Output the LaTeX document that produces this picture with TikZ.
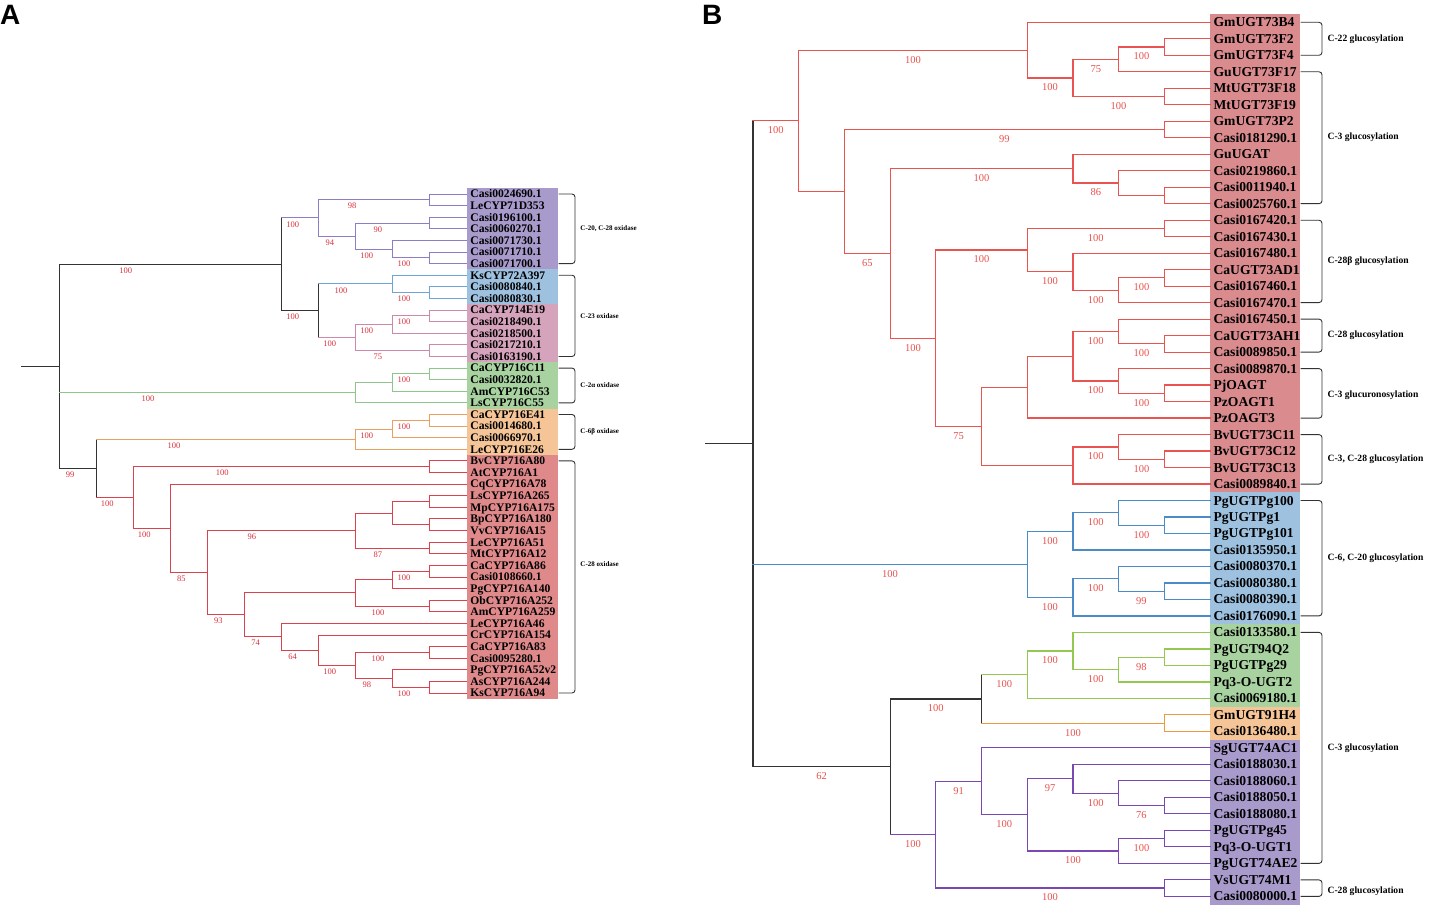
\documentclass[tikz,border=0pt]{standalone}
\usepackage{fontspec}
\setmainfont{Liberation Serif}
\setsansfont{Liberation Sans}
\usetikzlibrary{calc}
\definecolor{cpu}{HTML}{8C7DC4}
\definecolor{cbl}{HTML}{6FA5D6}
\definecolor{cpk}{HTML}{C98AAC}
\definecolor{cgr}{HTML}{8FC58A}
\definecolor{cor}{HTML}{E9A060}
\definecolor{crd}{HTML}{D9434E}
\definecolor{cbk}{HTML}{333333}
\definecolor{boxPu}{HTML}{A89BCC}
\definecolor{boxBl}{HTML}{9DC1DF}
\definecolor{boxPk}{HTML}{D6A3BC}
\definecolor{boxGr}{HTML}{A8D3A0}
\definecolor{boxOr}{HTML}{F5C598}
\definecolor{boxRd}{HTML}{DF898B}
\definecolor{labA}{HTML}{D8303C}
\definecolor{rR}{HTML}{EA5450}
\definecolor{bB}{HTML}{4B8CC8}
\definecolor{gB}{HTML}{94C851}
\definecolor{oB}{HTML}{E89B3F}
\definecolor{pB}{HTML}{7A48B3}
\definecolor{kB}{HTML}{333333}
\definecolor{boxRdB}{HTML}{D98B8E}
\definecolor{labB}{HTML}{E8504C}
\newcommand\tclade[5]{%
  \coordinate (tmp) at ($(#3)!0.5!(#4)$);
  \coordinate (#1) at (tmp -| #2);
  \draw[#5] (#1 |- #3) -- (#1 |- #4);}
\newcommand\tedge[4]{\draw[#3] (#1 |- #2) -- node[lab]{#4} (#2);}
\newcommand\tcherry[5]{\tclade{#1}{#2}{#3}{#4}{#5}\tedge{#1}{#3}{#5}{}\tedge{#1}{#4}{#5}{}}
\begin{document}
\begin{tikzpicture}[x=1pt,y=-1pt,line cap=rect]
\useasboundingbox (0,0) rectangle (1434,912);
\tikzset{
  brk/.style={draw=cbk,line width=0.9pt,rounded corners=3pt},
}
\node[font=\fontsize{28}{28}\selectfont\bfseries\sffamily,anchor=north west,inner sep=0pt] (pA) at (0,5) {A};
\node[font=\fontsize{28}{28}\selectfont\bfseries\sffamily,anchor=north west,inner sep=0pt] (pB) at (702,5) {B};
% ================= PANEL A =================
\begin{scope}[line width=0.9pt,
  lab/.style={pos=0.3,anchor=north,inner sep=0pt,yshift=-3pt,font=\fontsize{8.5}{9}\selectfont,text=labA},
  leafA/.style={anchor=west,inner xsep=3pt,inner ysep=0pt,text height=7.7pt,text depth=0pt,font=\fontsize{11.6}{12}\selectfont\bfseries},
  blA/.style={anchor=west,inner sep=0pt,font=\fontsize{7}{8}\selectfont\bfseries}]
\fill[boxPu] (467,188) rectangle (558,269.4);
\fill[boxBl] (467,269.4) rectangle (558,304.2);
\fill[boxPk] (467,304.2) rectangle (558,362.3);
\fill[boxGr] (467,362.3) rectangle (558,408.7);
\fill[boxOr] (467,408.7) rectangle (558,455.1);
\fill[boxRd] (467,455.1) rectangle (558,699);
\foreach \k in {0,...,11} {\coordinate (XA\k) at ({59+37.09*\k},0);}
\foreach \t [count=\i] in {Casi0024690.1, LeCYP71D353, Casi0196100.1, Casi0060270.1, Casi0071730.1, Casi0071710.1, Casi0071700.1, KsCYP72A397, Casi0080840.1, Casi0080830.1, CaCYP714E19, Casi0218490.1, Casi0218500.1, Casi0217210.1, Casi0163190.1, CaCYP716C11, Casi0032820.1, AmCYP716C53, LsCYP716C55, CaCYP716E41, Casi0014680.1, Casi0066970.1, LeCYP716E26, BvCYP716A80, AtCYP716A1, CqCYP716A78, LsCYP716A265, MpCYP716A175, BpCYP716A180, VvCYP716A15, LeCYP716A51, MtCYP716A12, CaCYP716A86, Casi0108660.1, PgCYP716A140, ObCYP716A252, AmCYP716A259, LeCYP716A46, CrCYP716A154, CaCYP716A83, Casi0095280.1, PgCYP716A52v2, AsCYP716A244, KsCYP716A94}
  {\coordinate (a\i) at (467,{194+11.605*(\i-1)});
   \node[leafA] (ta\i) at (a\i) {\t};}
% purple
\tcherry{n1}{XA10}{a1}{a2}{cpu}
\tcherry{n2}{XA10}{a3}{a4}{cpu}
\tcherry{n3}{XA10}{a6}{a7}{cpu}
\tclade{n4}{XA9}{a5}{n3}{cpu}\tedge{n4}{a5}{cpu}{}\tedge{n4}{n3}{cpu}{100}
\tclade{n5}{XA8}{n2}{n4}{cpu}\tedge{n5}{n2}{cpu}{90}\tedge{n5}{n4}{cpu}{100}
\tclade{n6}{XA7}{n1}{n5}{cpu}\tedge{n6}{n1}{cpu}{98}\tedge{n6}{n5}{cpu}{94}
% blue
\tcherry{n7}{XA10}{a9}{a10}{cbl}
\tclade{n8}{XA9}{a8}{n7}{cbl}\tedge{n8}{a8}{cbl}{}\tedge{n8}{n7}{cbl}{100}
% pink
\tcherry{n9}{XA10}{a11}{a12}{cpk}
\tclade{n10}{XA9}{n9}{a13}{cpk}\tedge{n10}{n9}{cpk}{100}\tedge{n10}{a13}{cpk}{}
\tcherry{n11}{XA10}{a14}{a15}{cpk}
\tclade{n12}{XA8}{n10}{n11}{cpk}\tedge{n12}{n10}{cpk}{100}\tedge{n12}{n11}{cpk}{75}
\tclade{n13}{XA7}{n8}{n12}{cbk}\tedge{n13}{n8}{cbl}{100}\tedge{n13}{n12}{cpk}{100}
\tclade{n14}{XA6}{n6}{n13}{cbk}\tedge{n14}{n6}{cpu}{100}\tedge{n14}{n13}{cbk}{100}
% green
\tcherry{n15}{XA10}{a16}{a17}{cgr}
\tclade{n16}{XA9}{n15}{a18}{cgr}\tedge{n16}{n15}{cgr}{100}\tedge{n16}{a18}{cgr}{}
\tclade{n17}{XA8}{n16}{a19}{cgr}\tedge{n17}{n16}{cgr}{}\tedge{n17}{a19}{cgr}{}
% orange
\tcherry{n18}{XA10}{a20}{a21}{cor}
\tclade{n19}{XA9}{n18}{a22}{cor}\tedge{n19}{n18}{cor}{100}\tedge{n19}{a22}{cor}{}
\tclade{n20}{XA8}{n19}{a23}{cor}\tedge{n20}{n19}{cor}{100}\tedge{n20}{a23}{cor}{}
% red
\tcherry{n21}{XA10}{a24}{a25}{crd}
\tcherry{n22}{XA10}{a27}{a28}{crd}
\tcherry{n23}{XA10}{a29}{a30}{crd}
\tclade{n24}{XA9}{n22}{n23}{crd}\tedge{n24}{n22}{crd}{}\tedge{n24}{n23}{crd}{}
\tcherry{n25}{XA10}{a31}{a32}{crd}
\tclade{n26}{XA8}{n24}{n25}{crd}\tedge{n26}{n24}{crd}{}\tedge{n26}{n25}{crd}{87}
\tcherry{n27}{XA10}{a33}{a34}{crd}
\tclade{n28}{XA9}{n27}{a35}{crd}\tedge{n28}{n27}{crd}{100}\tedge{n28}{a35}{crd}{}
\tcherry{n29}{XA10}{a36}{a37}{crd}
\tclade{n30}{XA8}{n28}{n29}{crd}\tedge{n30}{n28}{crd}{}\tedge{n30}{n29}{crd}{100}
\tcherry{n31}{XA10}{a40}{a41}{crd}
\tcherry{n32}{XA10}{a43}{a44}{crd}
\tclade{n33}{XA9}{a42}{n32}{crd}\tedge{n33}{a42}{crd}{}\tedge{n33}{n32}{crd}{100}
\tclade{n34}{XA8}{n31}{n33}{crd}\tedge{n34}{n31}{crd}{100}\tedge{n34}{n33}{crd}{98}
\tclade{n35}{XA7}{a39}{n34}{crd}\tedge{n35}{a39}{crd}{}\tedge{n35}{n34}{crd}{100}
\tclade{n36}{XA6}{a38}{n35}{crd}\tedge{n36}{a38}{crd}{}\tedge{n36}{n35}{crd}{64}
\tclade{n37}{XA5}{n30}{n36}{crd}\tedge{n37}{n30}{crd}{}\tedge{n37}{n36}{crd}{74}
\tclade{n38}{XA4}{n26}{n37}{crd}\tedge{n38}{n26}{crd}{96}\tedge{n38}{n37}{crd}{93}
\tclade{n39}{XA3}{a26}{n38}{crd}\tedge{n39}{a26}{crd}{}\tedge{n39}{n38}{crd}{85}
\tclade{n40}{XA2}{n21}{n39}{crd}\tedge{n40}{n21}{crd}{100}\tedge{n40}{n39}{crd}{100}
\tclade{n41}{XA1}{n20}{n40}{cbk}\tedge{n41}{n20}{cor}{100}\tedge{n41}{n40}{crd}{100}
\tclade{n42}{XA0}{n14}{n41}{cbk}\tedge{n42}{n14}{cbk}{100}\tedge{n42}{n17}{cgr}{100}\tedge{n42}{n41}{cbk}{99}
\coordinate (rA) at (21,0);
\draw[cbk] (rA |- n42) -- (n42);
% brackets A
\draw[brk] (559,194) -- (575,194) -- (575,263.6) -- (559,263.6);
\node[blA] (bA1) at (580,228.8) {C-20, C-28 oxidase};
\draw[brk] (559,275.2) -- (575,275.2) -- (575,356.5) -- (559,356.5);
\node[blA] (bA2) at (580,315.9) {C-23 oxidase};
\draw[brk] (559,368.1) -- (575,368.1) -- (575,402.9) -- (559,402.9);
\node[blA] (bA3) at (580,385.5) {C-2α oxidase};
\draw[brk] (559,414.5) -- (575,414.5) -- (575,449.3) -- (559,449.3);
\node[blA] (bA4) at (580,431.9) {C-6β oxidase};
\draw[brk] (559,460.9) -- (575,460.9) -- (575,693) -- (559,693);
\node[blA] (bA5) at (580,564) {C-28 oxidase};
\end{scope}
% ================= PANEL B =================
\begin{scope}[line width=1.2pt,
  lab/.style={pos=0.5,anchor=north,inner sep=0pt,yshift=-5.3pt,font=\fontsize{10.5}{11}\selectfont,text=labB},
  leafB/.style={anchor=west,inner xsep=3pt,inner ysep=0pt,text height=9pt,text depth=0pt,font=\fontsize{13.6}{14}\selectfont\bfseries},
  blB/.style={anchor=west,inner sep=0pt,font=\fontsize{9.6}{10}\selectfont\bfseries}]
\fill[boxRdB] (1210,14) rectangle (1300,492.3);
\fill[boxBl] (1210,492.3) rectangle (1300,624.2);
\fill[boxGr] (1210,624.2) rectangle (1300,706.7);
\fill[boxOr] (1210,706.7) rectangle (1300,739.7);
\fill[boxPu] (1210,739.7) rectangle (1300,905);
\foreach \k in {0,...,10} {\coordinate (XB\k) at ({753+45.7*\k},0);}
\foreach \t [count=\i] in {GmUGT73B4, GmUGT73F2, GmUGT73F4, GuUGT73F17, MtUGT73F18, MtUGT73F19, GmUGT73P2, Casi0181290.1, GuUGAT, Casi0219860.1, Casi0011940.1, Casi0025760.1, Casi0167420.1, Casi0167430.1, Casi0167480.1, CaUGT73AD1, Casi0167460.1, Casi0167470.1, Casi0167450.1, CaUGT73AH1, Casi0089850.1, Casi0089870.1, PjOAGT, PzOAGT1, PzOAGT3, BvUGT73C11, BvUGT73C12, BvUGT73C13, Casi0089840.1, PgUGTPg100, PgUGTPg1, PgUGTPg101, Casi0135950.1, Casi0080370.1, Casi0080380.1, Casi0080390.1, Casi0176090.1, Casi0133580.1, PgUGT94Q2, PgUGTPg29, Pq3-O-UGT2, Casi0069180.1, GmUGT91H4, Casi0136480.1, SgUGT74AC1, Casi0188030.1, Casi0188060.1, Casi0188050.1, Casi0188080.1, PgUGTPg45, Pq3-O-UGT1, PgUGT74AE2, VsUGT74M1, Casi0080000.1}
  {\coordinate (b\i) at (1210,{22.3+16.49*(\i-1)});
   \node[leafB] (tb\i) at (b\i) {\t};}
% red
\tcherry{m1}{XB9}{b2}{b3}{rR}
\tclade{m2}{XB8}{m1}{b4}{rR}\tedge{m2}{m1}{rR}{100}\tedge{m2}{b4}{rR}{}
\tcherry{m3}{XB9}{b5}{b6}{rR}
\tclade{m4}{XB7}{m2}{m3}{rR}\tedge{m4}{m2}{rR}{75}\tedge{m4}{m3}{rR}{100}
\tclade{m5}{XB6}{b1}{m4}{rR}\tedge{m5}{b1}{rR}{}\tedge{m5}{m4}{rR}{100}
\tcherry{m6}{XB9}{b7}{b8}{rR}
\tcherry{m7}{XB9}{b11}{b12}{rR}
\tclade{m8}{XB8}{b10}{m7}{rR}\tedge{m8}{b10}{rR}{}\tedge{m8}{m7}{rR}{}
\tclade{m9}{XB7}{b9}{m8}{rR}\tedge{m9}{b9}{rR}{}\tedge{m9}{m8}{rR}{86}
\tcherry{m10}{XB9}{b13}{b14}{rR}
\tcherry{m11}{XB9}{b16}{b17}{rR}
\tclade{m12}{XB8}{m11}{b18}{rR}\tedge{m12}{m11}{rR}{100}\tedge{m12}{b18}{rR}{}
\tclade{m13}{XB7}{b15}{m12}{rR}\tedge{m13}{b15}{rR}{}\tedge{m13}{m12}{rR}{100}
\tclade{m14}{XB6}{m10}{m13}{rR}\tedge{m14}{m10}{rR}{100}\tedge{m14}{m13}{rR}{100}
\tcherry{m15}{XB9}{b20}{b21}{rR}
\tclade{m16}{XB8}{b19}{m15}{rR}\tedge{m16}{b19}{rR}{}\tedge{m16}{m15}{rR}{100}
\tcherry{m17}{XB9}{b23}{b24}{rR}
\tclade{m18}{XB8}{b22}{m17}{rR}\tedge{m18}{b22}{rR}{}\tedge{m18}{m17}{rR}{100}
\tclade{m19}{XB7}{m16}{m18}{rR}\tedge{m19}{m16}{rR}{100}\tedge{m19}{m18}{rR}{100}
\tclade{m20}{XB6}{m19}{b25}{rR}\tedge{m20}{m19}{rR}{}\tedge{m20}{b25}{rR}{}
\tcherry{m21}{XB9}{b27}{b28}{rR}
\tclade{m22}{XB8}{b26}{m21}{rR}\tedge{m22}{b26}{rR}{}\tedge{m22}{m21}{rR}{100}
\tclade{m23}{XB7}{m22}{b29}{rR}\tedge{m23}{m22}{rR}{100}\tedge{m23}{b29}{rR}{}
\tclade{m24}{XB5}{m20}{m23}{rR}\tedge{m24}{m20}{rR}{}\tedge{m24}{m23}{rR}{}
\tclade{m25}{XB4}{m14}{m24}{rR}\tedge{m25}{m14}{rR}{100}\tedge{m25}{m24}{rR}{75}
\tclade{m26}{XB3}{m9}{m25}{rR}\tedge{m26}{m9}{rR}{100}\tedge{m26}{m25}{rR}{100}
\tclade{m27}{XB2}{m6}{m26}{rR}\tedge{m27}{m6}{rR}{99}\tedge{m27}{m26}{rR}{65}
\tclade{m28}{XB1}{m5}{m27}{rR}\tedge{m28}{m5}{rR}{100}\tedge{m28}{m27}{rR}{}
% blue
\tcherry{m29}{XB9}{b31}{b32}{bB}
\tclade{m30}{XB8}{b30}{m29}{bB}\tedge{m30}{b30}{bB}{}\tedge{m30}{m29}{bB}{100}
\tclade{m31}{XB7}{m30}{b33}{bB}\tedge{m31}{m30}{bB}{100}\tedge{m31}{b33}{bB}{}
\tcherry{m32}{XB9}{b35}{b36}{bB}
\tclade{m33}{XB8}{b34}{m32}{bB}\tedge{m33}{b34}{bB}{}\tedge{m33}{m32}{bB}{99}
\tclade{m34}{XB7}{m33}{b37}{bB}\tedge{m34}{m33}{bB}{100}\tedge{m34}{b37}{bB}{}
\tclade{m35}{XB6}{m31}{m34}{bB}\tedge{m35}{m31}{bB}{100}\tedge{m35}{m34}{bB}{100}
% green
\tcherry{m36}{XB9}{b39}{b40}{gB}
\tclade{m37}{XB8}{m36}{b41}{gB}\tedge{m37}{m36}{gB}{98}\tedge{m37}{b41}{gB}{}
\tclade{m38}{XB7}{b38}{m37}{gB}\tedge{m38}{b38}{gB}{}\tedge{m38}{m37}{gB}{100}
\tclade{m39}{XB6}{m38}{b42}{gB}\tedge{m39}{m38}{gB}{100}\tedge{m39}{b42}{gB}{}
% orange
\tcherry{m40}{XB9}{b43}{b44}{oB}
\tclade{m41}{XB5}{m39}{m40}{kB}\tedge{m41}{m39}{gB}{100}\tedge{m41}{m40}{oB}{100}
% purple
\tcherry{m42}{XB9}{b48}{b49}{pB}
\tclade{m43}{XB8}{b47}{m42}{pB}\tedge{m43}{b47}{pB}{}\tedge{m43}{m42}{pB}{76}
\tclade{m44}{XB7}{b46}{m43}{pB}\tedge{m44}{b46}{pB}{}\tedge{m44}{m43}{pB}{100}
\tcherry{m45}{XB9}{b50}{b51}{pB}
\tclade{m46}{XB8}{m45}{b52}{pB}\tedge{m46}{m45}{pB}{100}\tedge{m46}{b52}{pB}{}
\tclade{m47}{XB6}{m44}{m46}{pB}\tedge{m47}{m44}{pB}{97}\tedge{m47}{m46}{pB}{100}
\tclade{m48}{XB5}{b45}{m47}{pB}\tedge{m48}{b45}{pB}{}\tedge{m48}{m47}{pB}{100}
\tcherry{m49}{XB9}{b53}{b54}{pB}
\tclade{m50}{XB4}{m48}{m49}{pB}\tedge{m50}{m48}{pB}{91}\tedge{m50}{m49}{pB}{100}
\tclade{m51}{XB3}{m41}{m50}{kB}\tedge{m51}{m41}{kB}{100}\tedge{m51}{m50}{pB}{100}
\tclade{m52}{XB0}{m28}{m51}{kB}\tedge{m52}{m28}{rR}{100}\tedge{m52}{m35}{bB}{100}\tedge{m52}{m51}{kB}{62}
\coordinate (rB) at (706,0);
\draw[kB] (rB |- m52) -- (m52);
% brackets B
\draw[brk] (1301,22.3) -- (1322,22.3) -- (1322,55.3) -- (1301,55.3);
\node[blB] (bB1) at (1327,38.8) {C-22 glucosylation};
\draw[brk] (1301,71.8) -- (1322,71.8) -- (1322,203.7) -- (1301,203.7);
\node[blB] (bB2) at (1327,137.7) {C-3 glucosylation};
\draw[brk] (1301,220.2) -- (1322,220.2) -- (1322,302.6) -- (1301,302.6);
\node[blB] (bB3) at (1327,261.4) {C-28β glucosylation};
\draw[brk] (1301,319.1) -- (1322,319.1) -- (1322,352.1) -- (1301,352.1);
\node[blB] (bB4) at (1327,335.6) {C-28 glucosylation};
\draw[brk] (1301,368.6) -- (1322,368.6) -- (1322,418.1) -- (1301,418.1);
\node[blB] (bB5) at (1327,395.5) {C-3 glucuronosylation};
\draw[brk] (1301,434.6) -- (1322,434.6) -- (1322,484.1) -- (1301,484.1);
\node[blB] (bB6) at (1327,459.3) {C-3, C-28 glucosylation};
\draw[brk] (1301,500.5) -- (1322,500.5) -- (1322,615.9) -- (1301,615.9);
\node[blB] (bB7) at (1327,558.2) {C-6, C-20 glucosylation};
\draw[brk] (1301,632.4) -- (1322,632.4) -- (1322,863.4) -- (1301,863.4);
\node[blB] (bB8) at (1327,748.5) {C-3 glucosylation};
\draw[brk] (1301,879.9) -- (1322,879.9) -- (1322,896.4) -- (1301,896.4);
\node[blB] (bB9) at (1327,891.5) {C-28 glucosylation};
\end{scope}
\end{tikzpicture}
\end{document}
